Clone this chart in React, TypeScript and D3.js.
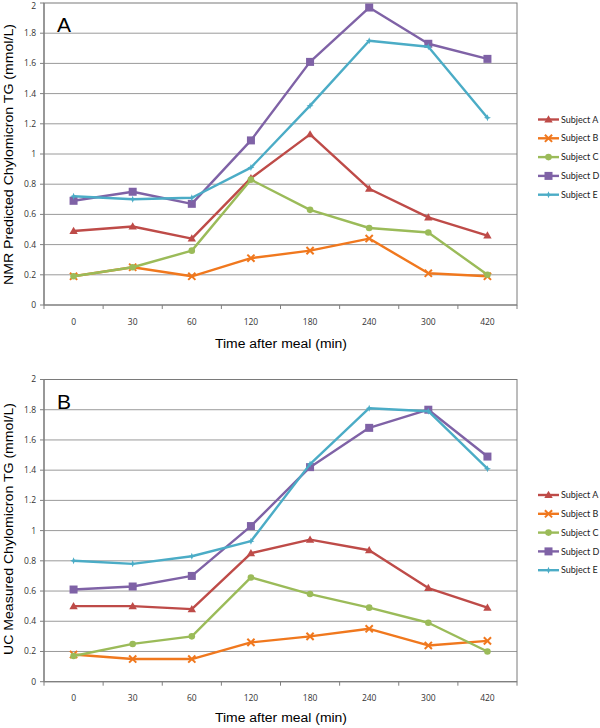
import React from "react";
import * as d3 from "d3";

const categories = ["0", "30", "60", "120", "180", "240", "300", "420"];
const yTicks = [0, 0.2, 0.4, 0.6, 0.8, 1, 1.2, 1.4, 1.6, 1.8, 2];
const subjects = ["Subject A", "Subject B", "Subject C", "Subject D", "Subject E"];
const colors = ["#BE4B48", "#F0781E", "#9BBB59", "#7F62A6", "#4BACC6"];
const markers = ["triangle", "x", "circle", "square", "star"];

const nmrA = [0.49, 0.52, 0.44, 0.84, 1.13, 0.77, 0.58, 0.46];
const nmrB = [0.19, 0.25, 0.19, 0.31, 0.36, 0.44, 0.21, 0.19];
const nmrC = [0.19, 0.25, 0.36, 0.83, 0.63, 0.51, 0.48, 0.2];
const nmrD = [0.69, 0.75, 0.67, 1.09, 1.61, 1.97, 1.73, 1.63];
const nmrE = [0.72, 0.7, 0.71, 0.91, 1.32, 1.75, 1.71, 1.24];

const ucA = [0.5, 0.5, 0.48, 0.85, 0.94, 0.87, 0.62, 0.49];
const ucB = [0.18, 0.15, 0.15, 0.26, 0.3, 0.35, 0.24, 0.27];
const ucC = [0.17, 0.25, 0.3, 0.69, 0.58, 0.49, 0.39, 0.2];
const ucD = [0.61, 0.63, 0.7, 1.03, 1.42, 1.68, 1.8, 1.49];
const ucE = [0.8, 0.78, 0.83, 0.93, 1.44, 1.81, 1.79, 1.41];

const panelA = [nmrA, nmrB, nmrC, nmrD, nmrE];
const panelB = [ucA, ucB, ucC, ucD, ucE];

const tickFont = "'Open Sans', sans-serif";
const titleFont = "'Liberation Sans', Arial, sans-serif";

function Marker({ type, x, y, color }: { type: string; x: number; y: number; color: string }) {
  if (type === "triangle") {
    return <path d={`M${x},${y - 4.2} L${x + 4.2},${y + 3} L${x - 4.2},${y + 3} Z`} fill={color} />;
  }
  if (type === "x") {
    return (
      <path
        d={`M${x - 3.6},${y - 3.6} L${x + 3.6},${y + 3.6} M${x - 3.6},${y + 3.6} L${x + 3.6},${y - 3.6}`}
        stroke={color}
        strokeWidth={2}
        fill="none"
      />
    );
  }
  if (type === "circle") {
    return <circle cx={x} cy={y} r={3.3} fill={color} />;
  }
  if (type === "square") {
    return <rect x={x - 4} y={y - 4} width={8} height={8} fill={color} />;
  }
  return (
    <path
      d={`M${x},${y - 3.5} L${x + 1},${y - 1} L${x + 3.5},${y} L${x + 1},${y + 1} L${x},${y + 3.5} L${x - 1},${y + 1} L${x - 3.5},${y} L${x - 1},${y - 1} Z`}
      fill={color}
    />
  );
}

function Panel({
  data,
  top,
  bottom,
  label,
  yTitle,
  yTitleLen,
  yTitleMid,
  xTitleY,
  legendTop,
}: {
  data: number[][];
  top: number;
  bottom: number;
  label: string;
  yTitle: string;
  yTitleLen: number;
  yTitleMid: number;
  xTitleY: number;
  legendTop: number;
}) {
  const left = 44;
  const right = 517;
  const x = d3.scaleBand<string>().domain(categories).range([left, right]).padding(0);
  const y = d3.scaleLinear().domain([0, 2]).range([bottom, top]);
  const cx = (c: string) => (x(c) as number) + x.bandwidth() / 2;
  const line = d3
    .line<number>()
    .x((_, i) => cx(categories[i]))
    .y((v) => y(v));
  const boundaries = categories.map((c) => x(c) as number).concat([right]);
  return (
    <g>
      {yTicks.slice(1, -1).map((t) => (
        <line key={t} x1={left} x2={right} y1={y(t)} y2={y(t)} stroke="#9A9A9A" strokeWidth={1} />
      ))}
      <rect x={left} y={top} width={right - left} height={bottom - top} fill="none" stroke="#7A7A7A" strokeWidth={1} />
      <line x1={left} x2={left} y1={top} y2={bottom} stroke="#808080" strokeWidth={1.2} />
      <line x1={left} x2={right} y1={bottom} y2={bottom} stroke="#808080" strokeWidth={1.2} />
      {yTicks.map((t) => (
        <g key={t}>
          <line x1={left - 4} x2={left} y1={y(t)} y2={y(t)} stroke="#808080" />
          <text x={36} y={Math.max(y(t), 6)} dy="0.35em" textAnchor="end" fontSize={8.5} fontFamily={tickFont} fill="#333">
            {String(t)}
          </text>
        </g>
      ))}
      {boundaries.map((b, i) => (
        <line key={i} x1={b} x2={b} y1={bottom} y2={bottom + 4} stroke="#808080" />
      ))}
      {categories.map((c) => (
        <text key={c} x={cx(c)} y={bottom + 19.5} textAnchor="middle" fontSize={8.5} fontFamily={tickFont} fill="#333">
          {c}
        </text>
      ))}
      <text
        x={281}
        y={xTitleY}
        textAnchor="middle"
        fontSize={12.5}
        fontFamily={titleFont}
        fill="#000"
        textLength={132}
        lengthAdjust="spacingAndGlyphs"
      >
        Time after meal (min)
      </text>
      <text
        transform={`translate(12.5,${yTitleMid}) rotate(-90)`}
        textAnchor="middle"
        fontSize={12.5}
        fontFamily={titleFont}
        fill="#000"
        textLength={yTitleLen}
        lengthAdjust="spacingAndGlyphs"
      >
        {yTitle}
      </text>
      <text x={57} y={top + 29} fontSize={21} fontFamily={titleFont} fill="#000">
        {label}
      </text>
      {data.map((vals, si) => (
        <g key={si}>
          <path d={line(vals) || ""} fill="none" stroke={colors[si]} strokeWidth={2.4} strokeLinejoin="round" />
          {vals.map((v, i) => (
            <Marker key={i} type={markers[si]} x={cx(categories[i])} y={y(v)} color={colors[si]} />
          ))}
        </g>
      ))}
      {subjects.map((s, si) => {
        const ly = legendTop + si * 18.8;
        return (
          <g key={s}>
            <line x1={538} x2={559} y1={ly} y2={ly} stroke={colors[si]} strokeWidth={2.4} />
            <Marker type={markers[si]} x={548.5} y={ly} color={colors[si]} />
            <text x={561} y={ly} dy="0.35em" fontSize={9} fontFamily="Lato, sans-serif" fill="#222">
              {s}
            </text>
          </g>
        );
      })}
    </g>
  );
}

export default function App() {
  return (
    <svg
      width={600}
      height={728}
      style={{ position: "absolute", left: 0, top: 0, background: "#fff" }}
      xmlns="http://www.w3.org/2000/svg"
    >
      <rect x={0} y={0} width={600} height={728} fill="#fff" />
      <Panel
        data={panelA}
        top={3}
        bottom={305}
        label="A"
        yTitle="NMR Predicted Chylomicron TG (mmol/L)"
        yTitleLen={261}
        yTitleMid={154.5}
        xTitleY={347.5}
        legendTop={119.5}
      />
      <Panel
        data={panelB}
        top={379.5}
        bottom={681.7}
        label="B"
        yTitle="UC Measured Chylomicron TG (mmol/L)"
        yTitleLen={252}
        yTitleMid={529}
        xTitleY={721.5}
        legendTop={495}
      />
    </svg>
  );
}
